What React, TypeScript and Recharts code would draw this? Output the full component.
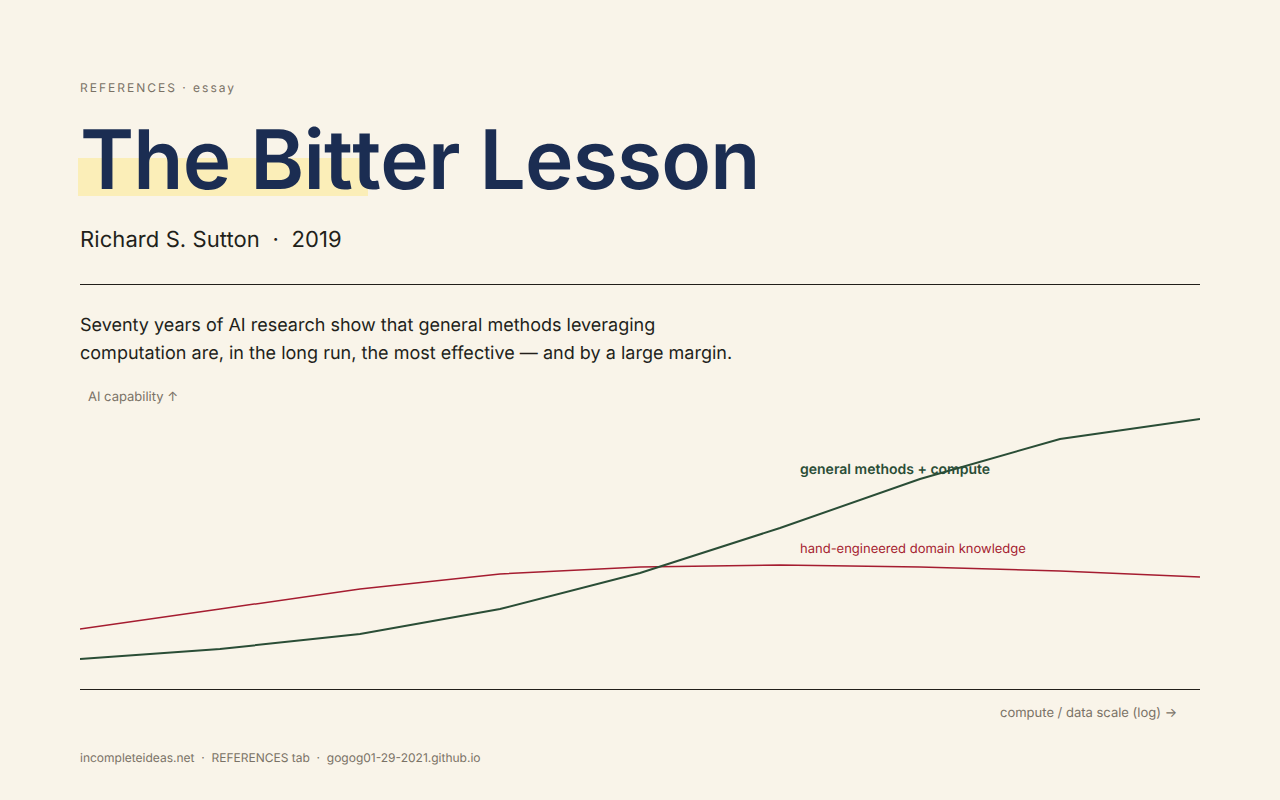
import { LineChart, Line, XAxis, YAxis } from "recharts";

const scales = ["1", "2", "3", "4", "5", "6", "7", "8", "9"];
const generalMethods = [30, 40, 55, 80, 116, 161, 210, 250, 270];
const handEngineered = [60, 80, 100, 115, 122, 124, 122, 118, 112];

const chartData = scales.map((scale, i) => ({
  scale,
  general: generalMethods[i],
  hand: handEngineered[i],
}));

const MUTED = "#7a7266";
const INK = "#221f1a";
const NAVY = "#1b2d52";
const GREEN = "#2a4d36";
const RED = "#a51c30";

function Text({ x, y, size, color, weight = 400, spacing = 0, children, style }: any) {
  return (
    <div
      style={{
        position: "absolute",
        left: x,
        top: y,
        fontSize: size,
        lineHeight: `${Math.round(size * 1.2)}px`,
        color,
        fontWeight: weight,
        letterSpacing: spacing,
        whiteSpace: "pre",
        textRendering: "geometricPrecision",
        ...style,
      }}
    >
      {children}
    </div>
  );
}

export default function App() {
  return (
    <div
      style={{
        position: "fixed",
        left: 0,
        top: 0,
        width: 1280,
        height: 800,
        background: "#f9f4e9",
        fontFamily: "Inter, sans-serif",
        overflow: "hidden",
      }}
    >
      <Text x={80} y={81} size={12} color={MUTED} spacing={2}>
        REFERENCES · essay
      </Text>

      <div
        style={{
          position: "absolute",
          left: 78,
          top: 158,
          width: 290,
          height: 38,
          background: "#fbeeb8",
        }}
      />
      <Text
        x={80}
        y={111}
        size={82}
        color={NAVY}
        weight={600}
        spacing={-0.82}
        style={{ fontKerning: "none", fontOpticalSizing: "none", fontVariantLigatures: "none" }}
      >
        The Bitter Lesson
      </Text>

      <Text x={80} y={227} size={22} color={INK} spacing={0.08}>
        Richard S. Sutton  ·  2019
      </Text>

      <div
        style={{
          position: "absolute",
          left: 80,
          top: 284,
          width: 1120,
          height: 1,
          background: INK,
        }}
      />

      <Text x={80} y={315} size={18} color={INK}>
        Seventy years of AI research show that general methods leveraging
      </Text>
      <Text x={80} y={343} size={18} color={INK} spacing={0.015}>
        computation are, in the long run, the most effective — and by a large margin.
      </Text>

      <div style={{ position: "absolute", left: 80, top: 389 }}>
        <LineChart
          width={1120}
          height={302}
          data={chartData}
          margin={{ top: 0, right: 0, bottom: 1, left: 0 }}
        >
          <XAxis
            dataKey="scale"
            height={1}
            interval={0}
            tick={false}
            tickLine={false}
            axisLine={{ stroke: INK, strokeWidth: 1, transform: "translate(0, 0.5)" }}
          />
          <YAxis hide domain={[0, 300]} />
          <Line
            dataKey="hand"
            type="linear"
            stroke={RED}
            strokeWidth={1.5}
            dot={false}
            isAnimationActive={false}
          />
          <Line
            dataKey="general"
            type="linear"
            stroke={GREEN}
            strokeWidth={2}
            dot={false}
            isAnimationActive={false}
          />
        </LineChart>
      </div>

      <Text x={88} y={389} size={13} color={MUTED}>
        AI capability ↑
      </Text>
      <Text x={800} y={461} size={14} color={GREEN} weight={600}>
        general methods + compute
      </Text>
      <Text x={800} y={541} size={13} color={RED}>
        hand-engineered domain knowledge
      </Text>
      <Text x={1000} y={705} size={13} color={MUTED}>
        compute / data scale (log) →
      </Text>
      <Text x={80} y={751} size={12} color={MUTED}>
        incompleteideas.net  ·  REFERENCES tab  ·  gogog01-29-2021.github.io
      </Text>
    </div>
  );
}
